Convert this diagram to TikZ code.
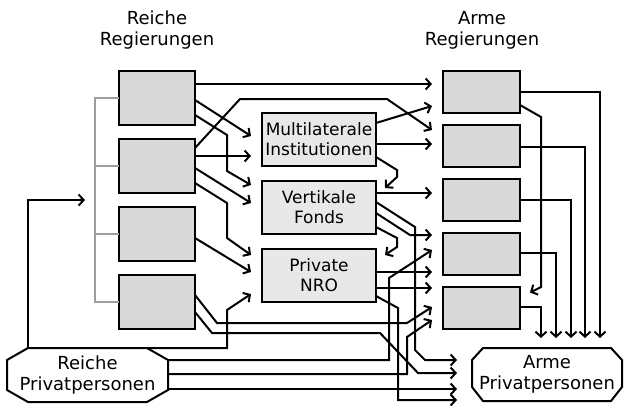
\documentclass[tikz,border=0pt]{standalone}
\usepackage{fontspec}
\setmainfont{DejaVu Sans}
\usetikzlibrary{arrows.meta,calc}
\definecolor{boxgray}{gray}{0.85}
\definecolor{midgray}{gray}{0.91}
\definecolor{bracketgray}{gray}{0.62}
\begin{document}
\begin{tikzpicture}[x=1pt,y=-1pt,
  line width=2pt,
  conn/.style={draw=black, line width=2pt, -{Straight Barb[length=5pt,width=11pt]}},
  gbox/.style={draw=black, fill=boxgray, line width=2pt, minimum width=76pt, minimum height=54pt, inner sep=0pt, outer sep=0pt},
  rbox/.style={gbox, minimum width=77pt, minimum height=42pt},
  mbox/.style={draw=black, fill=midgray, line width=2pt, minimum width=114pt, minimum height=53pt, inner sep=0pt, outer sep=0pt, align=center, font=\fontsize{17}{20}\selectfont},
  lbl/.style={align=center, font=\fontsize{18}{21}\selectfont, inner sep=0pt, outer sep=0pt},
  octo/.style={draw=black, line width=2pt},
  brk/.style={draw=bracketgray, line width=2pt}
]
\useasboundingbox (0,0) rectangle (624,405);
% titles
\node[lbl] (tl) at (157,30) {Reiche\\Regierungen};
\node[lbl] (tr) at (482,30) {Arme\\Regierungen};
% rich governments
\node[gbox] (L1) at (157,98) {};
\node[gbox] (L2) at (157,166) {};
\node[gbox] (L3) at (157,234) {};
\node[gbox] (L4) at (157,302) {};
% poor governments
\node[rbox] (R1) at (481.5,92) {};
\node[rbox] (R2) at (481.5,146) {};
\node[rbox] (R3) at (481.5,200) {};
\node[rbox] (R4) at (481.5,253.5) {};
\node[rbox] (R5) at (481.5,307.5) {};
% middle
\node[mbox] (M1) at (319,139.5) {Multilaterale\\Institutionen};
\node[mbox] (M2) at (319,207.5) {Vertikale\\Fonds};
\node[mbox] (M3) at (319,275.5) {Private\\NRO};
% private persons
\node[lbl, minimum width=161pt, minimum height=54pt] (RP) at (87.5,375) {Reiche\\Privatpersonen};
\node[lbl, minimum width=150pt, minimum height=53pt] (AP) at (547,374.5) {Arme\\Privatpersonen};
\draw[octo] ([yshift=-12pt]RP.north west) -- ([xshift=21pt]RP.north west) -- ([xshift=-21pt]RP.north east) -- ([yshift=-12pt]RP.north east) -- ([yshift=12pt]RP.south east) -- ([xshift=-21pt]RP.south east) -- ([xshift=21pt]RP.south west) -- ([yshift=12pt]RP.south west) -- cycle;
\draw[octo] ([yshift=-12pt]AP.north west) -- ([xshift=11pt]AP.north west) -- ([xshift=-11pt]AP.north east) -- ([yshift=-12pt]AP.north east) -- ([yshift=14pt]AP.south east) -- ([xshift=-11pt]AP.south east) -- ([xshift=11pt]AP.south west) -- ([yshift=14pt]AP.south west) -- cycle;
% bracket
\draw[brk] (L1.west) -- (95,0 |- L1.west) -- (95,0 |- L4.west) -- (L4.west);
\draw[brk] (L2.west) -- (95,0 |- L2.west);
\draw[brk] (L3.west) -- (95,0 |- L3.west);
\coordinate (rg) at (85,200);
% from rich governments
\draw[conn] (L1.east |- 0,84) -- ([xshift=-11pt]R1.west |- 0,84);
\draw[conn] (L1.east |- 0,100) -- ([xshift=-11pt]M1.west |- 0,136);
\draw[conn] (L1.east |- 0,115) -- (227,135) -- (227,171) -- ([xshift=-11pt]M2.west |- 0,185);
\draw[conn] (L2.east |- 0,148) -- (240,99) -- (387,99) -- ([xshift=-11pt]R2.west |- 0,130);
\draw[conn] (L2.east |- 0,156) -- ([xshift=-11pt]M1.west |- 0,156);
\draw[conn] (L2.east |- 0,168) -- ([xshift=-11pt]M2.west |- 0,203);
\draw[conn] (L2.east |- 0,183) -- (227,203) -- (227,238) -- ([xshift=-11pt]M3.west |- 0,255);
\draw[conn] (L3.east |- 0,238) -- ([xshift=-11pt]M3.west |- 0,272);
\draw[conn] (L4.east |- 0,295) -- (217,323) -- (407,323) -- ([xshift=-11pt]R5.west |- 0,307);
\draw[conn] (L4.east |- 0,312) -- (212,333) -- (380,333) -- (418,373) -- ([xshift=-15pt]AP.west |- 0,373);
% from multilateral
\draw[conn] (M1.east |- 0,123) -- ([xshift=-11pt]R1.west |- 0,106);
\draw[conn] (M1.east |- 0,144) -- ([xshift=-11pt]R2.west |- 0,144);
\draw[conn] (M1.east |- 0,157) -- (397,170) -- (397,177) -- ([shift={(9pt,-7pt)}]M2.north east);
% from vertical funds
\draw[conn] (M2.east |- 0,193) -- ([xshift=-11pt]R3.west |- 0,193);
\draw[conn] (M2.east |- 0,202) -- (415,227) -- (415,350) -- (425,360) -- ([xshift=-15pt]AP.west |- 0,360);
\draw[conn] (M2.east |- 0,213) -- (410,235) -- ([xshift=-11pt]R4.west |- 0,235);
\draw[conn] (M2.east |- 0,227) -- (397,238) -- (397,247) -- ([shift={(9pt,-6pt)}]M3.north east);
% from NGOs
\draw[conn] (M3.east |- 0,272) -- ([xshift=-11pt]R4.west |- 0,272);
\draw[conn] (M3.east |- 0,288) -- ([xshift=-11pt]R5.west |- 0,288);
\draw[conn] (M3.east |- 0,296) -- (398,308) -- (398,400) -- ([xshift=-15pt]AP.west |- 0,400);
% from rich private persons
\draw[conn] ([xshift=21pt]RP.north west) -- (28,200) -- (rg);
\draw[conn] ([xshift=-21pt]RP.north east) -- (227,348) -- (227,310) -- ([xshift=-11pt]M3.west |- 0,294);
\draw[conn] (RP.east |- 0,360) -- (389,360) -- (389,278) -- ([xshift=-11pt]R4.west |- 0,250);
\draw[conn] (RP.east |- 0,374) -- (407,374) -- (407,337) -- ([xshift=-11pt]R5.west |- 0,320);
\draw[conn] (RP.east |- 0,389) -- ([xshift=-15pt]AP.west |- 0,389);
% from poor governments
\draw[conn] (R1.east |- 0,92) -- (600,92) -- ([yshift=10pt]AP.north -| 600,0);
\draw[conn] (R1.east |- 0,105) -- (541,117) -- (541,287) -- ([shift={(10pt,-6pt)}]R5.north east);
\draw[conn] (R2.east |- 0,147) -- (585,147) -- ([yshift=10pt]AP.north -| 585,0);
\draw[conn] (R3.east |- 0,200) -- (571,200) -- ([yshift=10pt]AP.north -| 571,0);
\draw[conn] (R4.east |- 0,253) -- (556,253) -- ([yshift=10pt]AP.north -| 556,0);
\draw[conn] (R5.east |- 0,307) -- (541,307) -- ([yshift=10pt]AP.north -| 541,0);
\end{tikzpicture}
\end{document}
